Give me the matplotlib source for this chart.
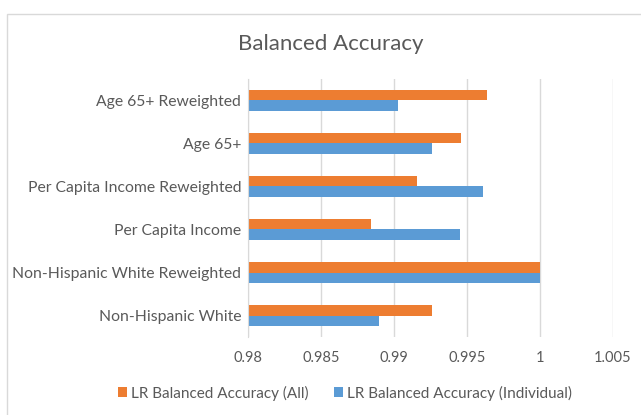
import matplotlib
matplotlib.use('Agg')
import matplotlib.pyplot as plt
import numpy as np
from matplotlib.patches import Rectangle

# data (bottom to top, as on the chart)
categories = ['Non-Hispanic White', 'Non-Hispanic White Reweighted',
              'Per Capita Income', 'Per Capita Income Reweighted',
              'Age 65+', 'Age 65+ Reweighted']
acc_all = [0.9926, 1.0, 0.9884, 0.9916, 0.9946, 0.9964]
acc_individual = [0.9890, 1.0, 0.9945, 0.9961, 0.9926, 0.9903]
x_ticks = [0.98, 0.985, 0.99, 0.995, 1.0, 1.005]
x_tick_labels = ['0.98', '0.985', '0.99', '0.995', '1', '1.005']

plt.rcParams['font.family'] = ['Lato', 'DejaVu Sans']
text_grey = '#595959'

fig = plt.figure(figsize=(6.41, 4.15), dpi=100)
# chart frame
fig.patches.append(Rectangle((7 / 641, -0.05), 1.0, (415 - 14) / 415 + 0.05,
                             transform=fig.transFigure, fill=False,
                             edgecolor='#d9d9d9', linewidth=1))

ax = fig.add_axes([248 / 641, (415 - 337) / 415, (613 - 248) / 641, (337 - 79) / 415])

y = np.arange(len(categories))
h = 0.25
ax.barh(y + h / 2, acc_all, height=h, color='#ED7D31', label='LR Balanced Accuracy (All)')
ax.barh(y - h / 2, acc_individual, height=h, color='#5B9BD5', label='LR Balanced Accuracy (Individual)')

ax.set_xlim(0.98, 1.005)
ax.set_ylim(-0.5, len(categories) - 0.5)
ax.set_xticks(x_ticks)
ax.set_xticklabels(x_tick_labels)
ax.set_yticks(y)
ax.set_yticklabels(categories)
ax.tick_params(axis='both', length=0, colors=text_grey)
ax.tick_params(axis='x', pad=10, labelsize=10.5)
ax.tick_params(axis='y', pad=5, labelsize=11.3)

ax.grid(axis='x', color='#d9d9d9', linewidth=1)
ax.set_axisbelow(True)
for s in ['top', 'right', 'bottom']:
    ax.spines[s].set_visible(False)
ax.spines['left'].set_color('#d9d9d9')

fig.text(331 / 641, 1 - 44 / 415, 'Balanced Accuracy', ha='center', va='center',
         fontsize=16, color=text_grey)

fig.legend(loc='center', bbox_to_anchor=(345 / 641, 1 - 393 / 415), ncol=2,
           frameon=False, fontsize=11, handlelength=0.6, handleheight=0.6,
           handletextpad=0.3, columnspacing=1.6, labelcolor=text_grey)

fig.savefig('out.png', dpi=100)
